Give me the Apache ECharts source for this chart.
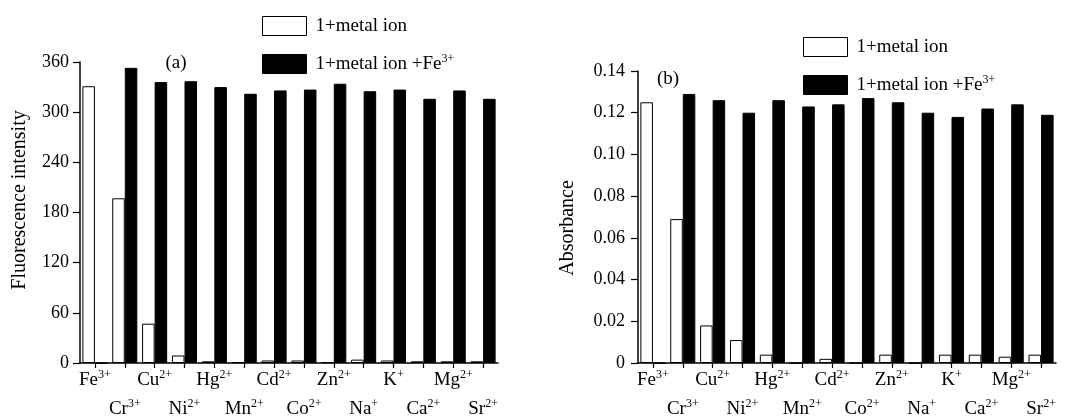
<!DOCTYPE html>
<html>
<head>
<meta charset="utf-8">
<script src="https://cdn.jsdelivr.net/npm/echarts@6/dist/echarts.min.js"></script>
<style>
html, body { margin: 0; padding: 0; background: #fff; }
#chart { width: 1066px; height: 417px; }
</style>
</head>
<body>
<div id="chart"></div>
<script>
// ions on the x axis (same for both panels)
var ions = ['Fe3+', 'Cr3+', 'Cu2+', 'Ni2+', 'Hg2+', 'Mn2+', 'Cd2+', 'Co2+', 'Zn2+', 'Na+', 'K+', 'Ca2+', 'Mg2+', 'Sr2+'];
var seriesNames = ['1+metal ion', '1+metal ion +Fe3+'];

// (a) fluorescence intensity
var fluoIon = [331, 197, 47, 9, 2, 1, 3, 3, 1, 4, 3, 2, 2, 2];
var fluoIonFe = [0, 353, 336, 337, 330, 322, 326, 327, 334, 325, 327, 316, 326, 316];
var fluoTicks = [0, 60, 120, 180, 240, 300, 360];

// (b) absorbance
var absIon = [0.125, 0.069, 0.018, 0.011, 0.004, 0, 0.002, 0, 0.004, 0, 0.004, 0.004, 0.003, 0.004];
var absIonFe = [0, 0.129, 0.126, 0.120, 0.126, 0.123, 0.124, 0.127, 0.125, 0.120, 0.118, 0.122, 0.124, 0.119];
var absTicks = [0, 0.02, 0.04, 0.06, 0.08, 0.10, 0.12, 0.14];

var FONT = 'Liberation Serif';

// 'Fe3+' -> '{n|Fe}{s|3+}'
function ionRich(txt) {
	var m = /^(.*?)(\d*[+-])$/.exec(txt);
	if (!m) return '{n|' + txt + '}';
	return '{n|' + m[1] + '}{s|' + m[2] + '}';
}
function nameRich(name) {
	var m = /^(.* \+)(Fe3\+)$/.exec(name);
	if (!m) return '{n|' + name + '}';
	return '{n|' + m[1] + '}' + ionRich(m[2]);
}

var rich = {
	n: { fontFamily: FONT, fontSize: 19, color: '#000', lineHeight: 22 },
	s: { fontFamily: FONT, fontSize: 12, color: '#000', lineHeight: 12, padding: [0, 0, 10, 0] }
};

function xAxis(grid) {
	return {
		type: 'category',
		gridIndex: grid,
		data: ions,
		axisLine: { lineStyle: { color: '#000', width: 1.5 } },
		axisTick: { show: true, alignWithLabel: true, interval: 0, length: 5, lineStyle: { color: '#000', width: 1.2 } },
		axisLabel: {
			interval: 0,
			margin: 6,
			lineHeight: 29,
			formatter: function(v, i) {
				return (i % 2 ? '\n' : '') + ionRich(v);
			},
			rich: rich
		}
	};
}

function yAxis(grid, ticks, dec, margin) {
	return {
		type: 'value',
		gridIndex: grid,
		min: ticks[0],
		max: ticks[ticks.length - 1],
		interval: ticks[1] - ticks[0],
		axisLine: { show: true, lineStyle: { color: '#000', width: 1.5 } },
		axisTick: { show: true, length: 7, lineStyle: { color: '#000', width: 1.2 } },
		splitLine: { show: false },
		axisLabel: {
			margin: margin,
			color: '#000',
			fontFamily: FONT,
			fontSize: 18,
			formatter: function(v) {
				return v === 0 ? '0' : v.toFixed(dec);
			}
		}
	};
}

var whiteStyle = { color: '#fff', borderColor: '#000', borderWidth: 1 };
var blackStyle = { color: '#000', borderColor: '#000', borderWidth: 1 };

function bars(name, data, grid, style) {
	return {
		name: name,
		type: 'bar',
		xAxisIndex: grid,
		yAxisIndex: grid,
		data: data,
		barGap: '0%',
		barCategoryGap: '16%',
		itemStyle: style,
		emphasis: { disabled: true },
		animation: false
	};
}

function legend(left, top) {
	return {
		orient: 'vertical',
		left: left,
		top: top,
		icon: 'rect',
		itemWidth: 44,
		itemHeight: 19,
		itemGap: 17,
		data: [
			{ name: seriesNames[0], itemStyle: whiteStyle },
			{ name: seriesNames[1], itemStyle: blackStyle }
		],
		formatter: nameRich,
		textStyle: { padding: [0, 0, 0, 4], rich: rich }
	};
}

function label(txt, x, y, rot, size) {
	return {
		type: 'text',
		x: x,
		y: y,
		rotation: rot || 0,
		style: {
			text: txt,
			fontFamily: FONT,
			fontSize: size || 19,
			fill: '#000',
			align: 'center',
			verticalAlign: 'middle'
		}
	};
}

var option = {
	backgroundColor: '#fff',
	textStyle: { fontFamily: FONT },
	grid: [
		{ left: 80, top: 62, width: 418, height: 301, outerBoundsMode: 'none' },
		{ left: 638, top: 71, width: 418, height: 292, outerBoundsMode: 'none' }
	],
	legend: [legend(257, 11), legend(798, 32)],
	xAxis: [xAxis(0), xAxis(1)],
	yAxis: [yAxis(0, fluoTicks, 0, 11), yAxis(1, absTicks, 2, 13)],
	series: [
		bars(seriesNames[0], fluoIon, 0, whiteStyle),
		bars(seriesNames[1], fluoIonFe, 0, blackStyle),
		bars(seriesNames[0], absIon, 1, whiteStyle),
		bars(seriesNames[1], absIonFe, 1, blackStyle)
	],
	graphic: [
		label('(a)', 176, 63),
		label('(b)', 668, 79),
		label('Fluorescence intensity', 20, 200, Math.PI / 2, 20),
		label('Absorbance', 568, 228, Math.PI / 2, 20)
	]
};

var chart = echarts.init(document.getElementById('chart'));
chart.setOption(option);
</script>
</body>
</html>
